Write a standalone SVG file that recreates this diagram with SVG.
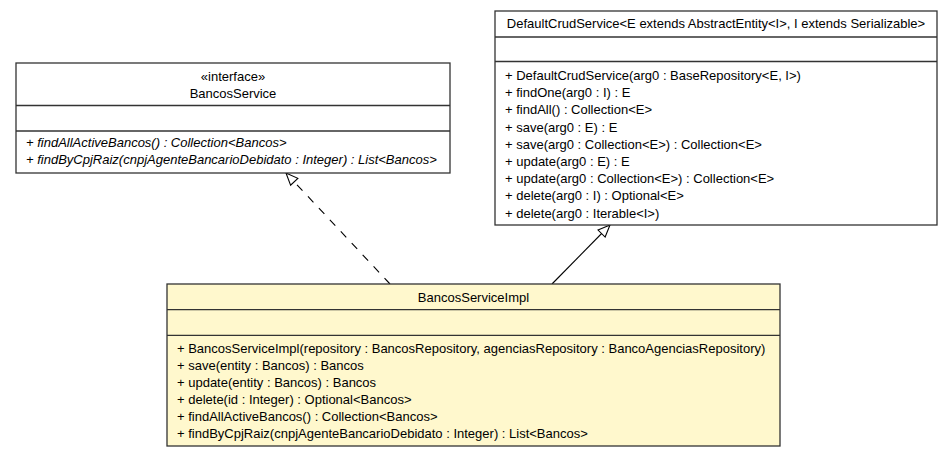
<svg xmlns="http://www.w3.org/2000/svg" width="952" height="457" viewBox="0 0 952 457">
<style>
.box{stroke:#333;stroke-width:1.3}
.w{fill:#fff}
.y{fill:#FFF8CD}
.sep{stroke:#333;stroke-width:1.3}
text{font-family:"Liberation Sans",Arial,sans-serif;font-size:13px;fill:#000}
.c{text-anchor:middle}
.i{font-style:italic}
.edge{fill:none;stroke:#000;stroke-width:1.1}
.dash{stroke-dasharray:8,8}
</style>
<defs>
<marker id="tri" markerUnits="userSpaceOnUse" markerWidth="16" markerHeight="14" viewBox="-2 -7 16 14" refX="12" refY="0" orient="auto">
<path d="M0,-5 L12,0 L0,5 Z" fill="#fff" stroke="#000" stroke-width="1.1"/>
</marker>
</defs>
<rect width="952" height="457" fill="#fff"/>

<g id="connectors">
<path class="edge dash" d="M390,284 L286,173" marker-end="url(#tri)"/>
<path class="edge" d="M552,284 L610,225" marker-end="url(#tri)"/>
</g>

<g id="BancosService">
<rect class="box w" x="16" y="63" width="434" height="110"/>
<line class="sep" x1="16" y1="105.5" x2="450" y2="105.5"/>
<line class="sep" x1="16" y1="131" x2="450" y2="131"/>
<text class="c" x="233" y="81">«interface»</text>
<text class="c" x="233" y="98">BancosService</text>
<text class="i" x="26" y="147">+ findAllActiveBancos() : Collection&lt;Bancos&gt;</text>
<text class="i" x="26" y="164">+ findByCpjRaiz(cnpjAgenteBancarioDebidato : Integer) : List&lt;Bancos&gt;</text>
</g>

<g id="DefaultCrudService">
<rect class="box w" x="495" y="11" width="442" height="214"/>
<line class="sep" x1="495" y1="37" x2="937" y2="37"/>
<line class="sep" x1="495" y1="61.5" x2="937" y2="61.5"/>
<text class="c" x="716" y="28">DefaultCrudService&lt;E extends AbstractEntity&lt;I&gt;, I extends Serializable&gt;</text>
<text x="505" y="80">+ DefaultCrudService(arg0 : BaseRepository&lt;E, I&gt;)</text>
<text x="505" y="97.2">+ findOne(arg0 : I) : E</text>
<text x="505" y="114.4">+ findAll() : Collection&lt;E&gt;</text>
<text x="505" y="131.6">+ save(arg0 : E) : E</text>
<text x="505" y="148.8">+ save(arg0 : Collection&lt;E&gt;) : Collection&lt;E&gt;</text>
<text x="505" y="166">+ update(arg0 : E) : E</text>
<text x="505" y="183.2">+ update(arg0 : Collection&lt;E&gt;) : Collection&lt;E&gt;</text>
<text x="505" y="200.4">+ delete(arg0 : I) : Optional&lt;E&gt;</text>
<text x="505" y="217.6">+ delete(arg0 : Iterable&lt;I&gt;)</text>
</g>

<g id="BancosServiceImpl">
<rect class="box y" x="167" y="284" width="613" height="162"/>
<line class="sep" x1="167" y1="309.7" x2="780" y2="309.7"/>
<line class="sep" x1="167" y1="335.3" x2="780" y2="335.3"/>
<text class="c" x="473.5" y="301.5">BancosServiceImpl</text>
<text x="177" y="352.7">+ BancosServiceImpl(repository : BancosRepository, agenciasRepository : BancoAgenciasRepository)</text>
<text x="177" y="369.7">+ save(entity : Bancos) : Bancos</text>
<text x="177" y="386.7">+ update(entity : Bancos) : Bancos</text>
<text x="177" y="403.7">+ delete(id : Integer) : Optional&lt;Bancos&gt;</text>
<text x="177" y="420.7">+ findAllActiveBancos() : Collection&lt;Bancos&gt;</text>
<text x="177" y="437.7">+ findByCpjRaiz(cnpjAgenteBancarioDebidato : Integer) : List&lt;Bancos&gt;</text>
</g>
</svg>
